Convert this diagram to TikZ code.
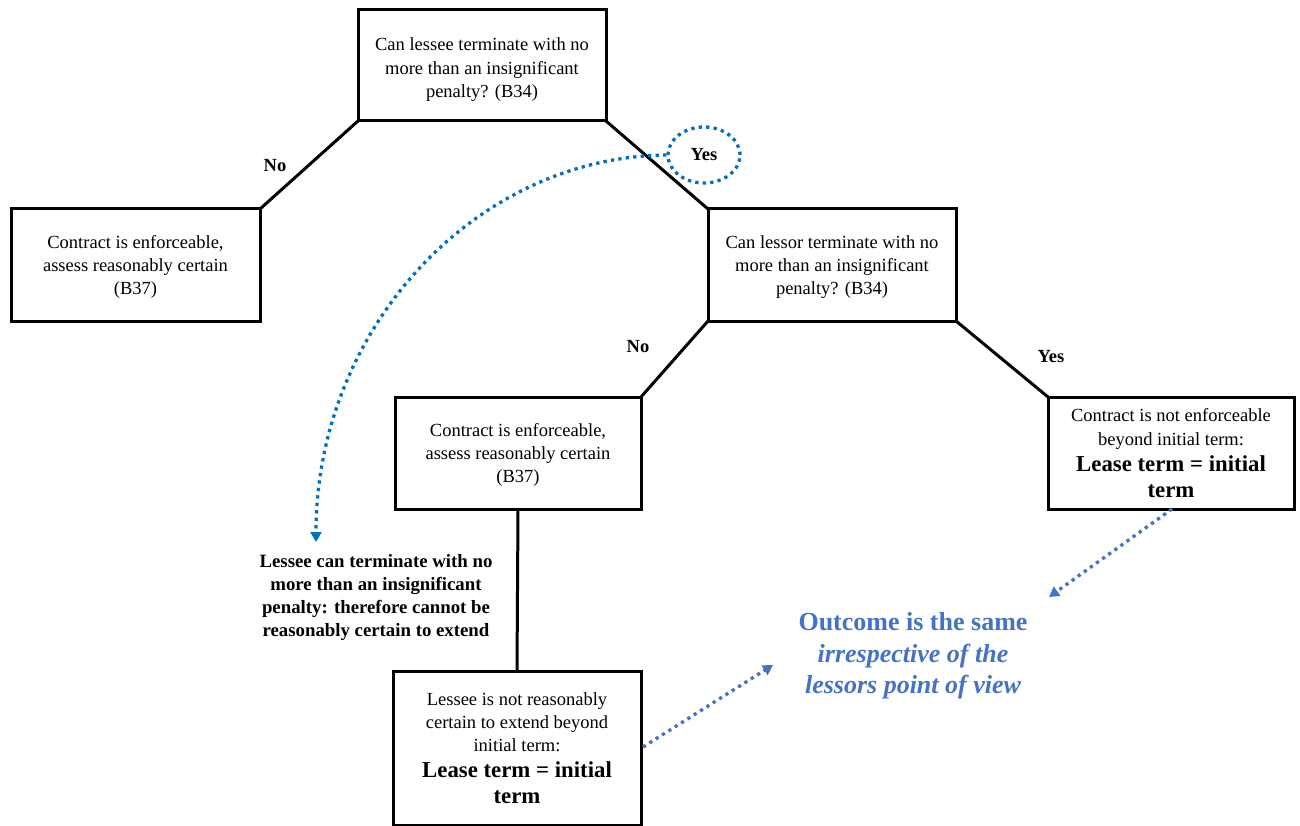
\documentclass[tikz,border=0pt]{standalone}
\usepackage{fontspec}
\setmainfont{Liberation Serif}
\usetikzlibrary{arrows.meta,shapes.geometric}
\definecolor{dotblue}{RGB}{0,112,192}
\definecolor{outblue}{RGB}{68,114,196}
\tikzset{
  box/.style={draw=black, line width=3pt, outer sep=0pt, inner sep=0pt},
  boxtext/.style={align=center, inner sep=0pt, font=\fontsize{18.5}{23}\selectfont},
  conn/.style={line width=3pt, line cap=round},
  lbl/.style={font=\bfseries\fontsize{18.5}{22}\selectfont, inner sep=0pt},
  dotline/.style={line width=3.3pt, dash pattern=on 3.3pt off 4.2pt},
  dotarrow/.style={dotline, -{Triangle[width=11pt,length=10pt]}},
}
\newcommand{\bigterm}[1]{{\bfseries\fontsize{22.8}{26}\selectfont #1}}
\begin{document}
\begin{tikzpicture}[x=1pt,y=-1pt]
\useasboundingbox (0,0) rectangle (1300,826);
\node[box, minimum width=248pt, minimum height=111pt] (b1) at (482,65.5) {};
\node[boxtext] (t1) at ([yshift=-4pt]b1.center)
  {Can lessee terminate with no\\[1pt]more than an insignificant\\penalty? (B34)};
\node[box, minimum width=249pt, minimum height=112pt] (b2) at (135.5,265) {};
\node[boxtext] (t2) at ([yshift=-2pt]b2.center)
  {Contract is enforceable,\\assess reasonably certain\\(B37)};
\node[box, minimum width=248pt, minimum height=112pt] (b3) at (832,265) {};
\node[boxtext] (t3) at ([yshift=-2pt]b3.center)
  {Can lessor terminate with no\\more than an insignificant\\penalty? (B34)};
\node[box, minimum width=246pt, minimum height=112pt] (b4) at (518,453) {};
\node[boxtext] (t4) at ([yshift=-1.5pt]b4.center)
  {Contract is enforceable,\\assess reasonably certain\\(B37)};
\node[box, minimum width=246pt, minimum height=112pt] (b5) at (1171,453) {};
\node[boxtext] (t5) at ([yshift=0pt]b5.center)
  {Contract is not enforceable\\[1pt]beyond initial term:\\[3pt]\bigterm{Lease term = initial}\\[3pt]\bigterm{term}};
\node[box, minimum width=248pt, minimum height=154pt] (b6) at (517,748) {};
\node[boxtext] (t6) at ([yshift=0pt]b6.center)
  {Lessee is not reasonably\\certain to extend beyond\\[0.5pt]initial term:\\[3pt]\bigterm{Lease term = initial}\\[3pt]\bigterm{term}};

\draw[conn] (b1.south west) -- (b2.north east);
\draw[conn] (b1.south east) -- (b3.north west);
\draw[conn] (b3.south west) -- (b4.north east);
\draw[conn] (b3.south east) -- (b5.north west);
\draw[conn] (b4.south) -- (b6.north);

\node[lbl] (no1) at (275,166) {No};
\node[lbl] (no2) at (638,347) {No};
\node[lbl] (yes2) at (1051,357) {Yes};
\node[lbl, draw=dotblue, dotline, ellipse, minimum width=72pt, minimum height=56pt] (yes1) at (704,155) {Yes};

\node[font=\bfseries\fontsize{18.8}{23}\selectfont, align=center, inner sep=0pt] (lessee) at (376,597.5)
  {Lessee can terminate with no\\more than an insignificant\\penalty: therefore cannot be\\reasonably certain to extend};
\coordinate (lesseetip) at (316,542);
\draw[dotarrow, draw=dotblue] (yes1.west) .. controls (475,157) and (316,329) .. (lesseetip);

\node[outblue, align=center, inner sep=0pt, font=\fontsize{26}{31.5}\selectfont] (out) at (913,656)
  {\bfseries Outcome is the same\\\bfseries\itshape irrespective of the\\\bfseries\itshape lessors point of view};
\coordinate (tipA) at (1049,597);
\coordinate (tipB) at (773,665);
\coordinate (srcA) at (1172,509);
\coordinate (srcB) at (643,747);
\draw[dotarrow, draw=outblue] (srcA) -- (tipA);
\draw[dotarrow, draw=outblue] (srcB) -- (tipB);
\end{tikzpicture}
\end{document}
